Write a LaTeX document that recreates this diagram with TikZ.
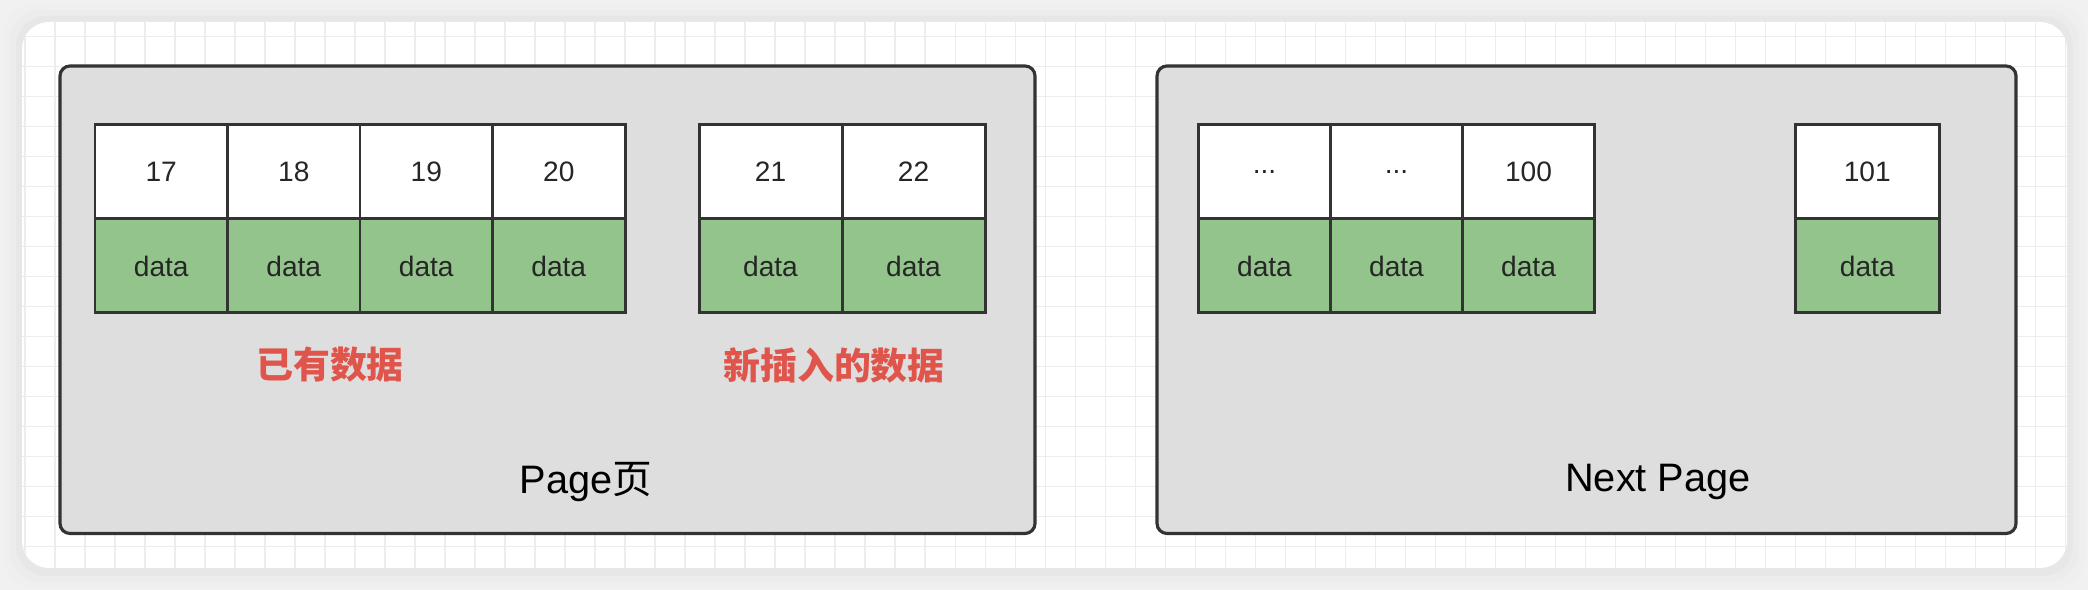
\documentclass[tikz,border=0pt]{standalone}
\usepackage{fontspec}
\setmainfont{Liberation Sans}
\newfontfamily\cjk{Noto Sans CJK SC}
\usetikzlibrary{positioning}

\definecolor{outerbg}{HTML}{F1F1F1}
\definecolor{gridline}{HTML}{EDEDED}
\definecolor{pagefill}{HTML}{DEDEDE}
\definecolor{datagreen}{HTML}{93C48B}
\definecolor{notered}{HTML}{E0554B}
\definecolor{edgegray}{HTML}{333333}

\newcommand{\skipmark}{...}

\tikzset{
  pagebox/.style={draw=edgegray, line width=0.9pt, fill=pagefill, rounded corners=0.1cm},
  keycell/.style={draw=edgegray, line width=0.85pt, fill=white, minimum height=0.94cm,
    inner sep=0pt, outer sep=0pt, text=black!85, font=\fontsize{8}{10}\selectfont},
  datacell/.style={keycell, fill=datagreen},
  notetext/.style={text=notered, font=\cjk\bfseries\fontsize{10.5}{12}\selectfont},
  pagetitle/.style={text=black, font=\fontsize{11.3}{13}\selectfont}
}

\begin{document}
\begin{tikzpicture}

% Canvas and card
\useasboundingbox (0,0) rectangle (20.88,5.90);
\fill[outerbg] (0,0) rectangle (20.88,5.90);
\foreach \s/\o in {0.18/0.008,0.12/0.012,0.06/0.018}
  \fill[black, opacity=\o, rounded corners=0.3cm] (0.22-\s,0.20-\s) rectangle (20.67+\s,5.68+\s);
\fill[white, rounded corners=0.27cm] (0.22,0.22) rectangle (20.67,5.68);

% Grid on the card
\begin{scope}
  \clip[rounded corners=0.27cm] (0.22,0.22) rectangle (20.67,5.68);
  \foreach \x in {0.25,0.55,...,20.7}
    \draw[gridline, line width=0.3pt] (\x,0) -- (\x,5.9);
  \foreach \y in {0.133,0.433,...,5.7}
    \draw[gridline, line width=0.3pt] (0,\y) -- (20.88,\y);
\end{scope}

%--- Page: existing + inserted rows ---
\filldraw[pagebox] (0.60,0.565) rectangle (10.35,5.24);

% Existing rows 17..20
\foreach \k [count=\i] in {17,18,19,20} {
  \node[keycell, minimum width=1.325cm, anchor=north west] (old\i) at ({0.95+(\i-1)*1.325},4.65) {\k};
  \node[datacell, minimum width=1.325cm, below=0pt of old\i] (olddata\i) {data};
}

% Inserted rows 21, 22
\foreach \k [count=\i] in {21,22} {
  \node[keycell, minimum width=1.43cm, anchor=north west] (new\i) at ({6.99+(\i-1)*1.43},4.65) {\k};
  \node[datacell, minimum width=1.43cm, below=0pt of new\i] (newdata\i) {data};
}

% Red notes
\node[notetext] (oldnote) at (3.30,2.25) {已有数据};
\node[notetext] (newnote) at (8.34,2.25) {新插入的数据};

% Page title
\node[pagetitle] (pagename) at (5.86,1.08) {Page{\cjk 页}};

%--- Next page ---
\filldraw[pagebox] (11.57,0.565) rectangle (20.16,5.24);

% Rows skipped, skipped, 100
\foreach \k [count=\i] in {\skipmark,\skipmark,100} {
  \node[keycell, minimum width=1.32cm, anchor=north west] (next\i) at ({11.985+(\i-1)*1.32},4.65) {\k};
  \node[datacell, minimum width=1.32cm, below=0pt of next\i] (nextdata\i) {data};
}

% Row 101
\node[keycell, minimum width=1.445cm, anchor=north west] (last) at (17.95,4.65) {101};
\node[datacell, minimum width=1.445cm, below=0pt of last] (lastdata) {data};

% Next page title
\node[pagetitle] (nextname) at (16.58,1.08) {Next Page};

\end{tikzpicture}
\end{document}
